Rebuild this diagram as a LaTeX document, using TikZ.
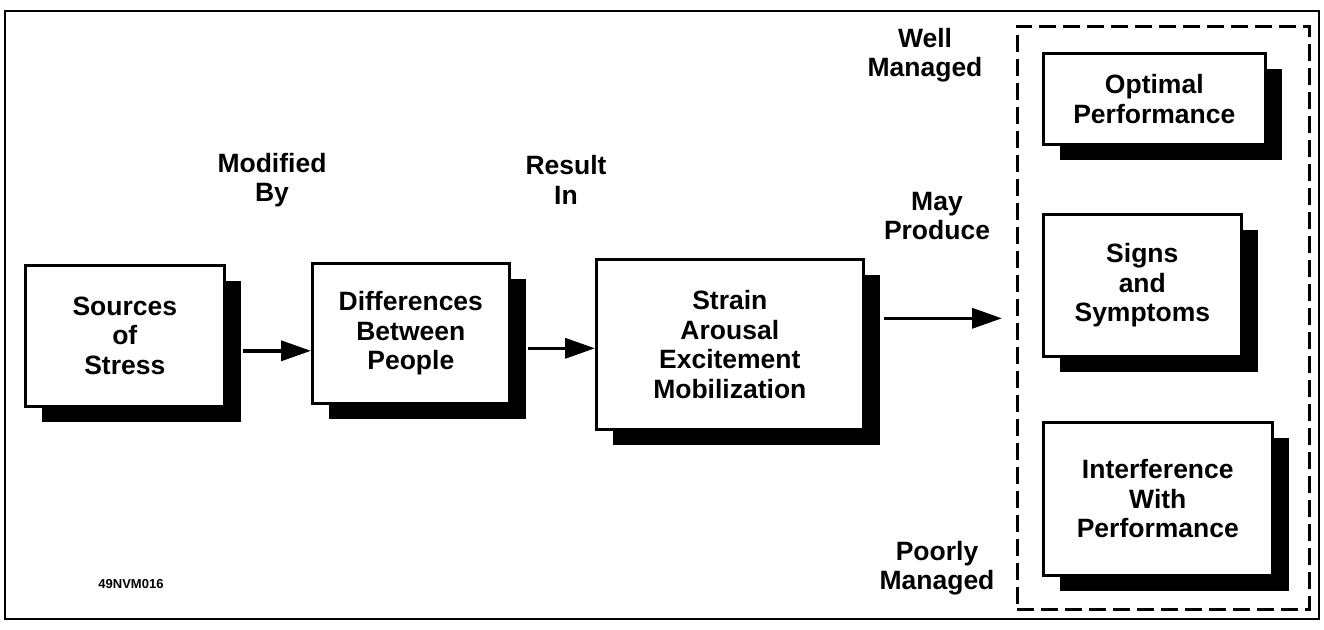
\documentclass[tikz,border=0pt]{standalone}
\usepackage{fontspec}
\setmainfont{Liberation Sans}
\usetikzlibrary{arrows.meta,positioning,shadows}

\begin{document}
\begin{tikzpicture}[x=1pt,y=-1pt,font=\bfseries\fontsize{26.5}{29.5}\selectfont,
  stressbox/.style={draw=black,fill=white,line width=2.6pt,align=center,anchor=north west,inner sep=0pt,
    drop shadow={shadow xshift=17pt,shadow yshift=-16pt,fill=black,opacity=1}},
  flowar/.style={-{Triangle[length=30pt,width=20pt]},line width=3.6pt},
  lbl/.style={align=center}]
\useasboundingbox (0,0) rectangle (1324,629);
\draw[line width=2pt] (5,11) rectangle (1319,619);
% main chain
\node[stressbox,minimum width=199pt,minimum height=141pt](src) at (24,264){Sources\\of\\Stress};
\node[stressbox,minimum width=197pt,minimum height=140pt](dif) at (311,262){Differences\\Between\\People};
\node[stressbox,minimum width=267pt,minimum height=170pt](str) at (595,258){Strain\\Arousal\\Excitement\\Mobilization};
% outcomes
\node[draw,dash pattern=on 17pt off 7pt,line width=2.6pt,anchor=north west,inner sep=0pt,
  minimum width=292pt,minimum height=583pt](grp) at (1016,25){};
\node[stressbox,minimum width=222pt,minimum height=91pt](opt) at (1042,52){Optimal\\Performance};
\node[stressbox,minimum width=198pt,minimum height=142pt](sym) at (1042,213){Signs\\and\\Symptoms};
\node[stressbox,minimum width=229pt,minimum height=153pt](itf) at (1042,421){Interference\\With\\Performance};
% labels
\node[lbl](mod) at (272,180){Modified\\By};
\node[lbl](res) at (566,180){Result\\In};
\node[lbl](may) at (937,216){May\\Produce};
\node[lbl](well) at (925,55){Well\\Managed};
\node[lbl](poor) at (937,568){Poorly\\Managed};
\node[font=\bfseries\fontsize{13}{15}\selectfont](code) at (131,584){49NVM016};
% arrows
\coordinate (a1) at ([shift={(17pt,-15pt)}]src.east);
\coordinate (a2) at ([shift={(17pt,-15pt)}]dif.east);
\coordinate (a3) at ([shift={(19pt,26pt)}]str.east);
\coordinate (e3) at ([xshift=-14pt]grp.west |- a3);
\draw[flowar](a1)--(a1 -| dif.west);
\draw[flowar](a2)--(a2 -| str.west);
\draw[flowar](a3)--(e3);
\end{tikzpicture}
\end{document}
